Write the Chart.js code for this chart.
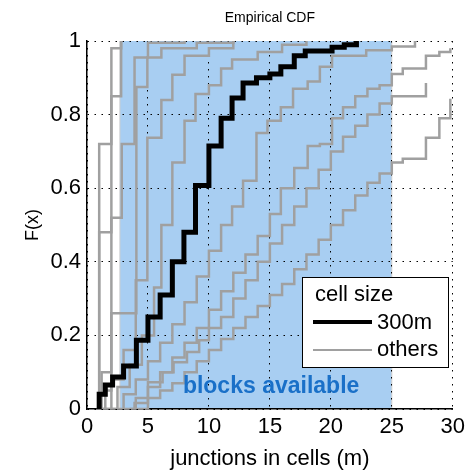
<!DOCTYPE html>
<html>
<head>
<meta charset="utf-8">
<script src="https://cdn.jsdelivr.net/npm/chart.js@4.4.1/dist/chart.umd.min.js"></script>
<style>
  html, body { margin: 0; padding: 0; background: #fff; }
  #wrap { width: 470px; height: 474px; }
</style>
</head>
<body>
<div id="wrap"><canvas id="cdfChart" width="470" height="474"></canvas></div>
<script>
// --- data ---
const xTicks = [0, 5, 10, 15, 20, 25, 30];
const yTicks = [0, 0.2, 0.4, 0.6, 0.8, 1];
const yTickLabels = ['0', '0.2', '0.4', '0.6', '0.8', '1'];

// blocks available range (junctions)
const blockRange = [2.7, 25];

// 300m cell size: jump positions and CDF value after each jump
const cell300X = [1.0, 1.0, 1.5, 2.1, 3.0, 4.05, 5.0, 6.0, 7.0, 7.95, 8.9, 10, 11, 11.9, 12.8, 13.9, 15, 15.9, 17, 17.9, 20.1, 21.1, 22.1];
const cell300F = [0, 0.04, 0.065, 0.087, 0.117, 0.187, 0.25, 0.31, 0.40, 0.48, 0.607, 0.715, 0.79, 0.845, 0.886, 0.9, 0.91, 0.93, 0.96, 0.973, 0.983, 0.99, 1];

// other cell sizes
const othersX = [
  [0.8, 1.0, 2.0, 2.8],
  [0.9, 1.0, 2.0, 2.8],
  [1.0, 1.2, 2.0, 2.85, 3.9, 5.0, 8.0],
  [1.0, 1.5, 2.0, 4.05, 4.95, 6.1, 9.0, 12.0],
  [1.2, 2.0, 3.0, 4.0, 4.95, 6.1, 7.0, 8.0, 10, 12],
  [1.5, 2.5, 3.5, 4.5, 5.5, 6.1, 7.0, 8.0, 8.9, 10, 11, 11.9, 14, 16, 18],
  [2, 3, 4, 5, 6, 7, 8, 9, 10, 11, 11.9, 12.8, 13.9, 14.8, 15.9, 16.9, 18.1, 19.1, 20.1, 22.9, 25, 26.9],
  [3, 4, 5, 6, 7, 8, 9, 10, 11, 12, 13, 14, 15, 15.9, 17, 18.1, 19.1, 20.1, 21, 22, 23, 24, 25, 25.9, 27.8, 28.9, 29.8],
  [3.5, 3.9, 5, 6.2, 7.1, 8.2, 9.2, 10, 11, 12, 13, 14, 15, 16, 17, 18, 19, 20, 21, 22, 23, 24, 25, 27.8],
  [4, 5, 6, 7, 8, 9, 10, 11, 12, 13, 14, 15, 16, 17, 18, 19, 20, 21, 22, 23, 24, 25, 25.9, 27.8, 28.9, 29.8]
];
const othersF = [
  [0, 0.72, 0.98, 1],
  [0, 0.48, 0.85, 1],
  [0, 0.1, 0.52, 0.72, 0.955, 0.995, 1],
  [0, 0.05, 0.26, 0.875, 0.955, 0.98, 0.995, 1],
  [0, 0.08, 0.16, 0.35, 0.737, 0.84, 0.908, 0.96, 0.98, 1],
  [0, 0.06, 0.12, 0.2, 0.33, 0.5, 0.67, 0.783, 0.856, 0.88, 0.925, 0.95, 0.97, 0.99, 1],
  [0, 0.04, 0.08, 0.13, 0.18, 0.23, 0.29, 0.36, 0.43, 0.5, 0.55, 0.62, 0.75, 0.783, 0.82, 0.87, 0.89, 0.93, 0.96, 0.975, 0.985, 1],
  [0, 0.03, 0.06, 0.1, 0.14, 0.18, 0.22, 0.27, 0.32, 0.37, 0.42, 0.47, 0.53, 0.6, 0.655, 0.715, 0.72, 0.79, 0.82, 0.85, 0.87, 0.88, 0.91, 0.925, 0.96, 0.97, 0.98],
  [0, 0.016, 0.073, 0.1, 0.127, 0.155, 0.187, 0.22, 0.25, 0.3, 0.35, 0.4, 0.45, 0.5, 0.55, 0.6, 0.65, 0.7, 0.74, 0.77, 0.8, 0.83, 0.85, 0.886],
  [0, 0.03, 0.05, 0.07, 0.1, 0.13, 0.16, 0.19, 0.22, 0.25, 0.28, 0.31, 0.34, 0.38, 0.42, 0.46, 0.5, 0.54, 0.58, 0.615, 0.64, 0.67, 0.68, 0.737, 0.79, 0.843]
];

const FONT = '"Liberation Sans", Arial, Helvetica, sans-serif';
const GREY = 'rgb(160,160,160)';
const BLUE_FILL = 'rgb(168,206,242)';
const BLUE_TEXT = 'rgb(26,112,200)';

function toPoints(xs, fs) {
    return xs.map((x, i) => ({ x: x, y: fs[i] }));
}

const datasets = [];
datasets.push({
    label: '300m',
    data: toPoints(cell300X, cell300F),
    borderColor: '#000',
    borderWidth: 5,
    stepped: true,
    pointRadius: 0,
    fill: false
});
othersX.forEach((xs, i) => {
    datasets.push({
        label: 'others',
        data: toPoints(xs, othersF[i]),
        borderColor: GREY,
        borderWidth: 2.5,
        stepped: true,
        pointRadius: 0,
        fill: false
    });
});

// blue "blocks available" band, legend box and text
const overlayPlugin = {
    id: 'overlay',
    beforeDraw(chart) {
        const { ctx, scales: { x, y } } = chart;
        const x0 = x.getPixelForValue(blockRange[0]);
        const x1 = x.getPixelForValue(blockRange[1]);
        const yTop = y.getPixelForValue(1);
        const yBot = y.getPixelForValue(0);
        ctx.save();
        ctx.fillStyle = BLUE_FILL;
        ctx.fillRect(x0, yTop, x1 - x0, yBot - yTop);
        ctx.strokeStyle = 'rgb(205,205,205)';
        ctx.lineWidth = 1;
        ctx.beginPath();
        ctx.moveTo(x0, yTop); ctx.lineTo(x0, yBot);
        ctx.moveTo(x1, yTop); ctx.lineTo(x1, yBot);
        ctx.stroke();
        ctx.restore();
    },
    afterDraw(chart) {
        const { ctx, chartArea, scales: { x, y } } = chart;
        ctx.save();

        // title
        ctx.fillStyle = '#000';
        ctx.font = '14px ' + FONT;
        ctx.textAlign = 'center';
        ctx.textBaseline = 'middle';
        ctx.fillText('Empirical CDF', (chartArea.left + chartArea.right) / 2, 18);

        // "blocks available"
        ctx.fillStyle = BLUE_TEXT;
        ctx.font = 'bold 23px ' + FONT;
        ctx.fillText('blocks available', x.getPixelForValue(15.1), y.getPixelForValue(0.062));

        // legend
        const lx = 302, ly = 277, lw = 146, lh = 90;
        ctx.fillStyle = '#fff';
        ctx.fillRect(lx, ly, lw, lh);
        ctx.strokeStyle = '#000';
        ctx.lineWidth = 1;
        ctx.strokeRect(lx + 0.5, ly + 0.5, lw, lh);

        ctx.fillStyle = '#000';
        ctx.font = '22px ' + FONT;
        ctx.textAlign = 'left';
        ctx.fillText('cell size', lx + 13, ly + 18);
        ctx.fillText('300m', lx + 75, ly + 46);
        ctx.fillText('others', lx + 75, ly + 73);

        ctx.lineCap = 'butt';
        ctx.strokeStyle = '#000';
        ctx.lineWidth = 4;
        ctx.beginPath();
        ctx.moveTo(lx + 11, ly + 45); ctx.lineTo(lx + 70, ly + 45);
        ctx.stroke();
        ctx.strokeStyle = GREY;
        ctx.lineWidth = 2;
        ctx.beginPath();
        ctx.moveTo(lx + 11, ly + 73); ctx.lineTo(lx + 70, ly + 73);
        ctx.stroke();

        ctx.restore();
    }
};

const ctx = document.getElementById('cdfChart');
new Chart(ctx, {
    type: 'line',
    data: { datasets: datasets },
    options: {
        responsive: false,
        animation: false,
        layout: { padding: { left: 0, right: 13, top: 41, bottom: 0 } },
        elements: { line: { borderJoinStyle: 'miter', borderCapStyle: 'butt', tension: 0 } },
        plugins: {
            legend: { display: false },
            title: { display: false },
            tooltip: { enabled: false }
        },
        scales: {
            x: {
                type: 'linear',
                min: 0,
                max: 30,
                afterBuildTicks: (scale) => { scale.ticks = xTicks.map(v => ({ value: v })); },
                afterFit: (scale) => { scale.height = 65; },
                ticks: { color: '#000', font: { family: FONT, size: 22 }, padding: 5, maxRotation: 0 },
                grid: { color: '#000', lineWidth: 1, drawTicks: false },
                border: { display: true, color: '#000', width: 1.5, dash: [1.5, 5.5] },
                title: { display: true, text: 'junctions in cells (m)', color: '#000', font: { family: FONT, size: 22 }, padding: { top: 2, bottom: 2 } }
            },
            y: {
                type: 'linear',
                min: 0,
                max: 1,
                afterBuildTicks: (scale) => { scale.ticks = yTicks.map(v => ({ value: v })); },
                afterFit: (scale) => { scale.width = 87; },
                ticks: {
                    color: '#000', font: { family: FONT, size: 22 }, padding: 6,
                    callback: (value) => yTickLabels[yTicks.indexOf(value)] ?? String(value)
                },
                grid: { color: '#000', lineWidth: 1, drawTicks: false },
                border: { display: true, color: '#000', width: 1.5, dash: [1.5, 5.5] },
                title: { display: true, text: 'F(x)', color: '#000', font: { family: FONT, size: 18 }, padding: { top: 22, bottom: 0 } }
            }
        }
    },
    plugins: [overlayPlugin]
});
</script>
</body>
</html>
